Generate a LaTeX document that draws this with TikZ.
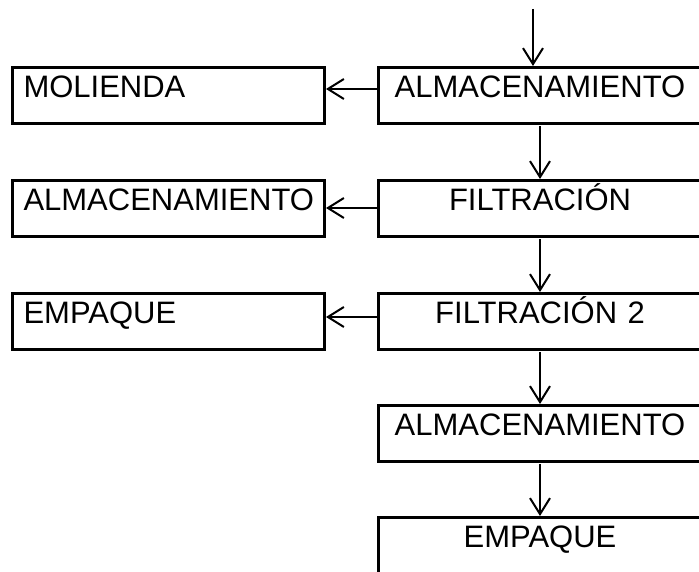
\documentclass[tikz,border=0pt]{standalone}
\usepackage{fontspec}
\setmainfont{Liberation Sans}
\usetikzlibrary{arrows.meta}
\begin{document}
\begin{tikzpicture}[x=1pt,y=1pt,
  box/.style={draw,line width=3pt,rectangle,inner ysep=0pt,
    font=\fontsize{31}{36}\selectfont,text height=30pt,text depth=26pt},
  rbox/.style={box,anchor=north,inner xsep=10pt,text width=304pt,align=center},
  lbox/.style={box,anchor=north west,inner xsep=11pt,text width=290pt,align=left},
  arr/.style={line width=2pt,-{Straight Barb[length=16pt,width=20pt,line width=2pt]}}]
\useasboundingbox (0,0) rectangle (699,572);
\fill[white] (0,0) rectangle (699,572);
% right column
\node[rbox] (r1) at (540,506) {ALMACENAMIENTO};
\node[rbox] (r2) at (540,393) {FILTRACIÓN};
\node[rbox] (r3) at (540,280) {FILTRACIÓN 2};
\node[rbox] (r4) at (540,168) {ALMACENAMIENTO};
\node[rbox,text depth=34pt] (r5) at (540,56) {EMPAQUE};
% left column
\node[lbox] (l1) at (11,506) {MOLIENDA};
\node[lbox] (l2) at (11,393) {ALMACENAMIENTO};
\node[lbox] (l3) at (11,280) {EMPAQUE};
% vertical arrows
\coordinate (in) at (533,563);
\draw[arr] (in) -- (in |- r1.north);
\draw[arr,shorten <=1.5pt] (r1.south) -- (r2.north);
\draw[arr,shorten <=1.5pt] (r2.south) -- (r3.north);
\draw[arr,shorten <=1.5pt] (r3.south) -- (r4.north);
\draw[arr,shorten <=1.5pt] (r4.south) -- (r5.north);
% horizontal arrows
\draw[arr] ([yshift=-23pt]r1.north west) -- ([yshift=-23pt]l1.north east);
\draw[arr] ([yshift=-29pt]r2.north west) -- ([yshift=-29pt]l2.north east);
\draw[arr] ([yshift=-25pt]r3.north west) -- ([yshift=-25pt]l3.north east);
\end{tikzpicture}
\end{document}
